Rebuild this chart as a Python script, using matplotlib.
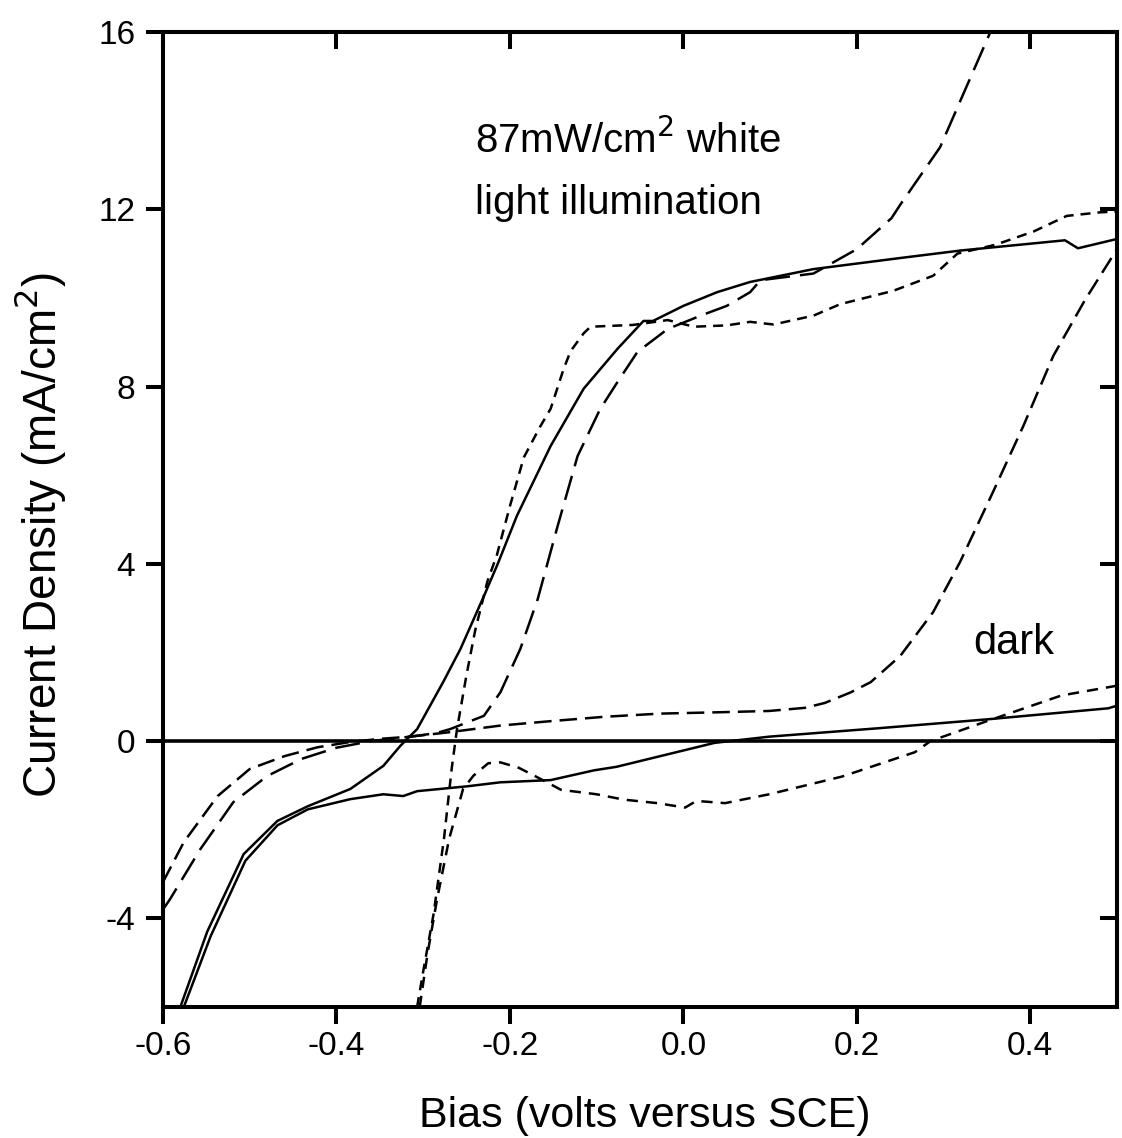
import numpy as np
import matplotlib
matplotlib.use("Agg")
import matplotlib.pyplot as plt

plt.rcParams['font.family'] = ['Liberation Sans', 'DejaVu Sans']
plt.rcParams['axes.unicode_minus'] = False

# Solid pair (illuminated / dark)
solid_light_x = [-0.580, -0.549, -0.507, -0.468, -0.433, -0.384, -0.346, -0.326, -0.307,
                 -0.277, -0.257, -0.230, -0.214, -0.192, -0.153, -0.115, -0.076, -0.046,
                 -0.035, 0.000, 0.039, 0.077, 0.150, 0.250, 0.320, 0.440, 0.455, 0.500]
solid_light_y = [-6.0, -4.3, -2.55, -1.8, -1.47, -1.08, -0.56, -0.10, 0.27,
                 1.33, 2.08, 3.27, 4.0, 5.08, 6.66, 7.95, 8.85, 9.48,
                 9.48, 9.82, 10.13, 10.36, 10.65, 10.9, 11.07, 11.3, 11.12, 11.33]

solid_dark_x = [-0.576, -0.545, -0.505, -0.468, -0.433, -0.384, -0.346, -0.323, -0.307,
                -0.249, -0.211, -0.153, -0.103, -0.077, 0.036, 0.099, 0.225, 0.350, 0.490, 0.500]
solid_dark_y = [-6.0, -4.4, -2.7, -1.9, -1.54, -1.31, -1.2, -1.24, -1.13,
                -1.02, -0.93, -0.88, -0.66, -0.58, -0.04, 0.10, 0.29, 0.49, 0.74, 0.80]

# Short-dash pair
short_light_x = [-0.307, -0.300, -0.288, -0.276, -0.267, -0.261, -0.250, -0.240, -0.226,
                 -0.215, -0.200, -0.184, -0.165, -0.153, -0.138, -0.130, -0.115, -0.107,
                 -0.058, -0.018, 0.012, 0.050, 0.077, 0.104, 0.150, 0.181, 0.242, 0.288,
                 0.316, 0.360, 0.404, 0.442, 0.480, 0.500]
short_light_y = [-6.0, -5.2, -3.9, -2.2, -0.6, 0.27, 1.5, 2.5, 3.6,
                 4.2, 5.3, 6.4, 7.1, 7.5, 8.4, 8.8, 9.2, 9.35,
                 9.39, 9.5, 9.35, 9.38, 9.46, 9.4, 9.6, 9.86, 10.16, 10.5,
                 11.0, 11.2, 11.5, 11.85, 11.93, 11.95]

short_dark_x = [-0.304, -0.295, -0.284, -0.270, -0.254, -0.242, -0.225, -0.211, -0.190,
                -0.170, -0.141, -0.100, -0.069, -0.030, 0.002, 0.015, 0.048, 0.099,
                0.183, 0.267, 0.285, 0.350, 0.436, 0.500]
short_dark_y = [-6.0, -4.8, -3.57, -2.2, -1.08, -0.78, -0.5, -0.48, -0.6,
                -0.8, -1.1, -1.2, -1.32, -1.4, -1.5, -1.35, -1.4, -1.2,
                -0.8, -0.25, 0.0, 0.45, 1.03, 1.25]

# Long-dash pair
dash_light_x = [-0.600, -0.592, -0.557, -0.519, -0.480, -0.440, -0.400, -0.360, -0.315,
                -0.285, -0.269, -0.230, -0.211, -0.188, -0.168, -0.145, -0.122, -0.096,
                -0.076, -0.053, -0.018, 0.020, 0.050, 0.077, 0.089, 0.150, 0.200, 0.240,
                0.250, 0.296, 0.354, 0.370]
dash_light_y = [-3.8, -3.57, -2.44, -1.38, -0.79, -0.4, -0.15, 0.0, 0.1,
                0.18, 0.27, 0.57, 1.1, 2.08, 3.2, 4.85, 6.43, 7.49,
                8.1, 8.78, 9.3, 9.6, 9.82, 10.13, 10.4, 10.55, 11.1, 11.8,
                12.1, 13.4, 16.0, 16.8]

dash_dark_x = [-0.600, -0.576, -0.537, -0.500, -0.460, -0.422, -0.384, -0.350, -0.315,
               -0.270, -0.211, -0.153, -0.090, -0.027, 0.040, 0.099, 0.140, 0.163,
               0.193, 0.216, 0.250, 0.288, 0.319, 0.357, 0.392, 0.4265, 0.463, 0.500]
dash_dark_y = [-3.18, -2.28, -1.24, -0.63, -0.34, -0.14, -0.02, 0.05, 0.10,
               0.20, 0.35, 0.45, 0.55, 0.62, 0.65, 0.68, 0.75, 0.86,
               1.10, 1.33, 1.92, 2.91, 4.04, 5.62, 7.11, 8.69, 9.95, 11.1]

x_ticks = [-0.6, -0.4, -0.2, 0.0, 0.2, 0.4]
y_ticks = [-4, 0, 4, 8, 12, 16]

fig = plt.figure(figsize=(11.22, 11.38), dpi=100)
ax = fig.add_axes([163 / 1122, 1 - 1007 / 1138, (1117 - 163) / 1122, (1007 - 32) / 1138])

lw = 1.8
ax.plot(solid_light_x, solid_light_y, color='black', lw=lw, solid_joinstyle='round')
ax.plot(solid_dark_x, solid_dark_y, color='black', lw=lw, solid_joinstyle='round')
ax.plot(short_light_x, short_light_y, color='black', lw=lw, dashes=(4.0, 2.8))
ax.plot(short_dark_x, short_dark_y, color='black', lw=lw, dashes=(4.5, 3.2))
ax.plot(dash_light_x, dash_light_y, color='black', lw=lw, dashes=(10, 4))
ax.plot(dash_dark_x, dash_dark_y, color='black', lw=lw, dashes=(7, 3.2))
ax.axhline(0, color='black', lw=2.6)

ax.set_xlim(-0.6, 0.5)
ax.set_ylim(-6, 16)
ax.set_xticks(x_ticks)
ax.set_xticklabels([f"{v:.1f}" for v in x_ticks])
ax.set_yticks(y_ticks)
ax.set_yticklabels([str(v) for v in y_ticks])

for s in ax.spines.values():
    s.set_linewidth(2.9)

ax.tick_params(axis='x', direction='out', length=12, width=2.9, pad=5.5, labelsize=24,
               bottom=True, top=False)
ax.tick_params(axis='y', direction='out', length=12, width=2.9, pad=8, labelsize=24,
               left=True, right=False)

top = ax.secondary_xaxis('top')
top.set_xticks(x_ticks)
top.tick_params(direction='in', length=12, width=2.9, labeltop=False)
top.spines['top'].set_linewidth(2.9)
right = ax.secondary_yaxis('right')
right.set_yticks(y_ticks)
right.tick_params(direction='in', length=12, width=2.9, labelright=False)
right.spines['right'].set_linewidth(2.9)

fig.text(645 / 1122, 1 - 1127 / 1138, "Bias (volts versus SCE)", fontsize=31,
         ha='center', va='baseline')
fig.text(40 / 1122, 1 - 535 / 1138, "Current Density (mA/cm$^2$)", fontsize=33,
         ha='center', va='center', rotation=90)

ax.text(-0.24, 13.27, "87mW/cm$^2$ white", fontsize=29, ha='left', va='baseline')
ax.text(-0.24, 11.9, "light illumination", fontsize=29, ha='left', va='baseline')
ax.text(0.334, 1.96, "dark", fontsize=30, ha='left', va='baseline')

fig.savefig("out.png", dpi=100)
